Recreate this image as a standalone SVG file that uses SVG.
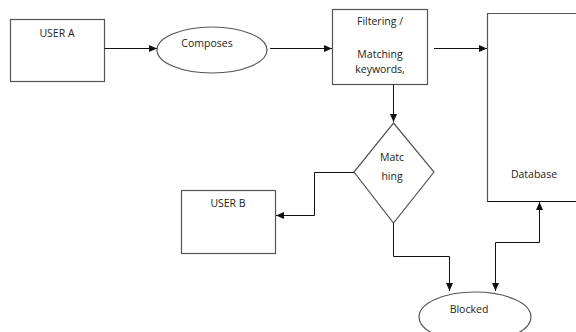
<svg xmlns="http://www.w3.org/2000/svg" width="576" height="332" viewBox="0 0 576 332">
<style>
.shape{fill:#fff;stroke:#555;stroke-width:1.2}
.conn{fill:none;stroke:#111;stroke-width:1}
text{font-family:"Open Sans","Liberation Sans",sans-serif;font-size:10.5px;fill:#222;text-anchor:middle}
</style>
<defs>
<marker id="ah" viewBox="0 0 8 8" refX="8" refY="4" markerWidth="8" markerHeight="8" markerUnits="userSpaceOnUse" orient="auto-start-reverse">
<path d="M0,0.5 L8,4 L0,7.5 z" fill="#111"/>
</marker>
</defs>
<rect width="576" height="332" fill="#fff"/>
<g id="userA"><rect class="shape" x="10.5" y="19.5" width="94" height="62"/><text x="57" y="37">USER A</text></g>
<g id="composes"><ellipse class="shape" cx="212" cy="50" rx="55" ry="23"/><text x="207" y="47">Composes</text></g>
<g id="filter"><rect class="shape" x="332.5" y="9.5" width="95" height="75"/><text x="380" y="25">Filtering /</text><text x="380" y="58">Matching</text><text x="380" y="73">keywords,</text></g>
<g id="database"><path class="shape" d="M580,13.5 H487.5 V201.5 H580"/><path d="M487.5,201.5 H580" stroke="#111" fill="none"/><text x="534" y="178">Database</text></g>
<g id="matching"><polygon class="shape" points="393.5,123 434,172 393.5,223 354,172"/><text x="392" y="161">Matc</text><text x="392" y="180">hing</text></g>
<g id="userB"><rect class="shape" x="181.5" y="190.5" width="94" height="63"/><text x="228" y="207">USER B</text></g>
<g id="blocked"><ellipse class="shape" cx="475" cy="317" rx="56" ry="25"/><text x="469" y="313">Blocked</text></g>
<g id="connectors">
<path class="conn" d="M104.5,48.5 H157" marker-end="url(#ah)"/>
<path class="conn" d="M270,48.5 H332" marker-end="url(#ah)"/>
<path class="conn" d="M434,48.5 H487" marker-end="url(#ah)"/>
<path class="conn" d="M393.5,84.5 V122" marker-end="url(#ah)"/>
<path class="conn" d="M354,172.5 H314.5 V215.5 H276" marker-end="url(#ah)"/>
<path class="conn" d="M393.5,223 V256.5 H449.5 V291" marker-end="url(#ah)"/>
<path class="conn" d="M495.5,291 V242.5 H539.5 V202" marker-start="url(#ah)" marker-end="url(#ah)"/>
</g>
</svg>
